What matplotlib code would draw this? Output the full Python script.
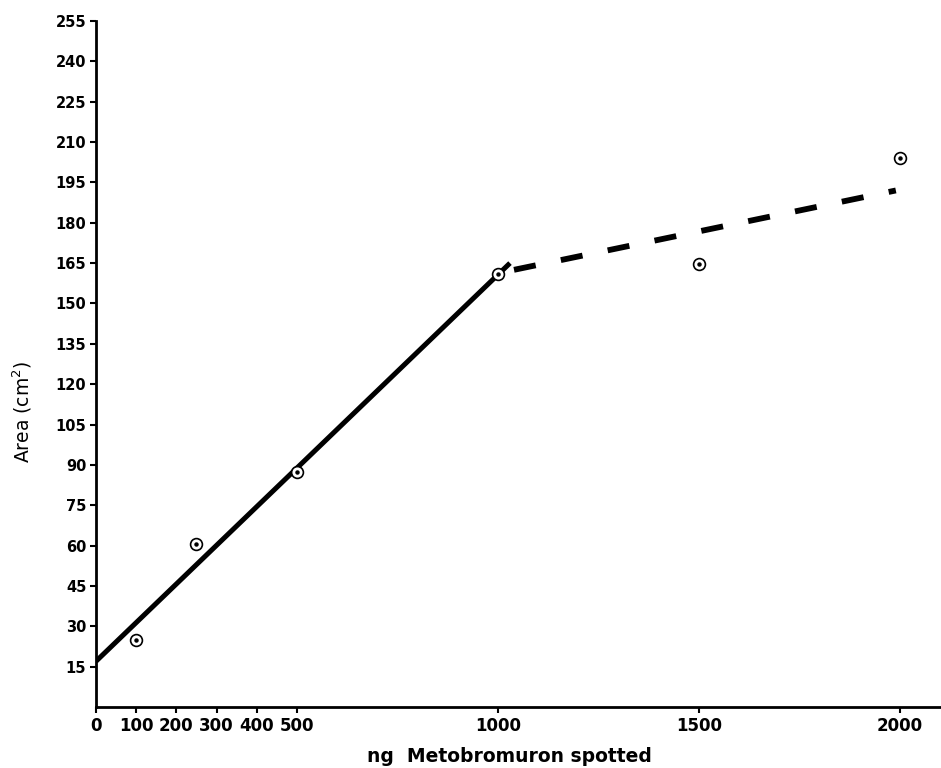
import matplotlib
matplotlib.use('Agg')
import matplotlib.pyplot as plt
import numpy as np

# data
amount = [100, 250, 500, 1000, 1500, 2000]     # ng spotted
area = [25, 60.5, 87.5, 161, 164.5, 204]        # cm2

fit_x = [0, 1030]
fit_y = [17, 165]
dash_x = [1040, 1990]
dash_y = [162.5, 192]

xticks = [0, 100, 200, 300, 400, 500, 1000, 1500, 2000]
yticks = list(range(15, 256, 15))

plt.rcParams['font.family'] = ['DejaVu Sans']

fig = plt.figure(figsize=(9.41, 7.68), dpi=100)
ax = fig.add_axes([0.102, 0.0794, 0.897, 0.8933])

ax.plot(fit_x, fit_y, color='black', lw=3.6, solid_capstyle='butt')
ax.plot(dash_x, dash_y, color='black', lw=4.2, dashes=(3.8, 4.4),
        dash_capstyle='butt')
ax.plot(amount, area, ls='none', marker='o', ms=8.5, mfc='white',
        mec='black', mew=1.2)
ax.plot(amount, area, ls='none', marker='o', ms=2.2, color='black')

ax.set_xlim(0, 2100)
ax.set_ylim(0, 255)
ax.set_xticks(xticks)
ax.set_yticks(yticks)
ax.set_xticklabels([str(v) for v in xticks], fontsize=12, fontweight='bold')
ax.set_yticklabels([str(v) for v in yticks], fontsize=10.5, fontweight='bold')

for s in ['top', 'right']:
    ax.spines[s].set_visible(False)
for s in ['left', 'bottom']:
    ax.spines[s].set_linewidth(2)
ax.tick_params(axis='both', direction='out', length=4, width=1.5, pad=3)

ax.set_xlabel('ng  Metobromuron spotted', fontsize=13.5, fontweight='bold')
ax.xaxis.set_label_coords(0.49, -0.058)
ax.set_ylabel('Area (cm$^2$)', fontsize=13.5)
ax.yaxis.set_label_coords(-0.074, 0.43)

fig.savefig('out.png', dpi=100)
